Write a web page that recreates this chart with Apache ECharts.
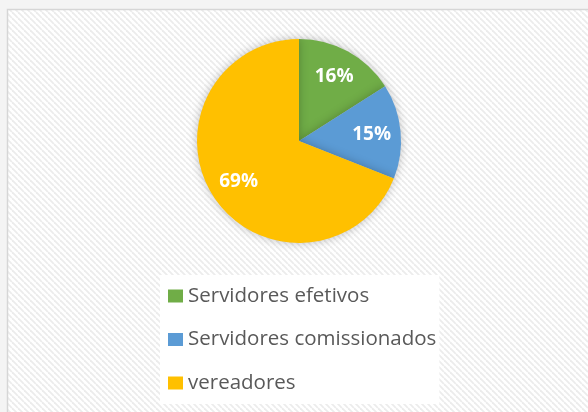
<!DOCTYPE html>
<html>
<head>
<meta charset="utf-8">
<script src="https://cdn.jsdelivr.net/npm/echarts@6/dist/echarts.min.js"></script>
<style>
  html, body { margin: 0; padding: 0; background: #f4f4f4; }
  #chart { width: 588px; height: 412px; }
</style>
</head>
<body>
<div id="chart"></div>
<script>
// dados
const categories = ["Servidores efetivos", "Servidores comissionados", "vereadores"];
const values = [16, 15, 69];
const colors = ["#70AD47", "#5B9BD5", "#FFC000"];

// padrão listrado do fundo
const makeHatch = () => {
  const c = document.createElement("canvas");
  c.width = 6;
  c.height = 6;
  const ctx = c.getContext("2d");
  ctx.fillStyle = "#ffffff";
  ctx.fillRect(0, 0, 6, 6);
  ctx.strokeStyle = "#ececec";
  ctx.lineWidth = 1.8;
  for (let k = -6; k <= 12; k += 6) {
    ctx.beginPath();
    ctx.moveTo(k, 0);
    ctx.lineTo(k + 6, 6);
    ctx.stroke();
  }
  return c;
};

const pieData = categories.map((name, i) => ({
  name,
  value: values[i],
  itemStyle: { color: colors[i] }
}));

const chart = echarts.init(document.getElementById("chart"));

const option = {
  animation: false,
  graphic: [
    {
      type: "rect",
      z: -10,
      shape: { x: 7.5, y: 9.5, width: 600, height: 420 },
      style: {
        fill: { image: makeHatch(), repeat: "repeat" },
        stroke: "#d6d6d6",
        lineWidth: 1.5
      }
    }
  ],
  legend: {
    orient: "vertical",
    left: 160,
    top: 275,
    width: 300,
    padding: [10, 3, 10, 8],
    backgroundColor: "#ffffff",
    itemWidth: 15,
    itemHeight: 13,
    itemGap: 21.5,
    icon: "rect",
    data: categories,
    textStyle: {
      fontFamily: "Open Sans",
      fontSize: 20.5,
      color: "#595959",
      lineHeight: 22,
      padding: [0, 0, 0, 0]
    }
  },
  series: [
    {
      type: "pie",
      center: [299, 141],
      radius: [0, 102],
      startAngle: 90,
      clockwise: true,
      label: { show: false },
      labelLine: { show: false },
      itemStyle: {
        shadowBlur: 10,
        shadowColor: "rgba(0,0,0,0.25)"
      },
      emphasis: { disabled: true },
      data: pieData
    },
    {
      // série transparente só para posicionar os rótulos
      type: "pie",
      center: [299, 141],
      radius: [38, 102],
      startAngle: 90,
      clockwise: true,
      silent: true,
      itemStyle: { color: "transparent" },
      label: {
        show: true,
        position: "inside",
        formatter: "{c}%",
        color: "#ffffff",
        fontFamily: "Open Sans",
        fontWeight: "bold",
        fontSize: 19
      },
      labelLine: { show: false },
      emphasis: { disabled: true },
      data: categories.map((name, i) => ({ name: name + " ", value: values[i] }))
    }
  ]
};

chart.setOption(option);
</script>
</body>
</html>
